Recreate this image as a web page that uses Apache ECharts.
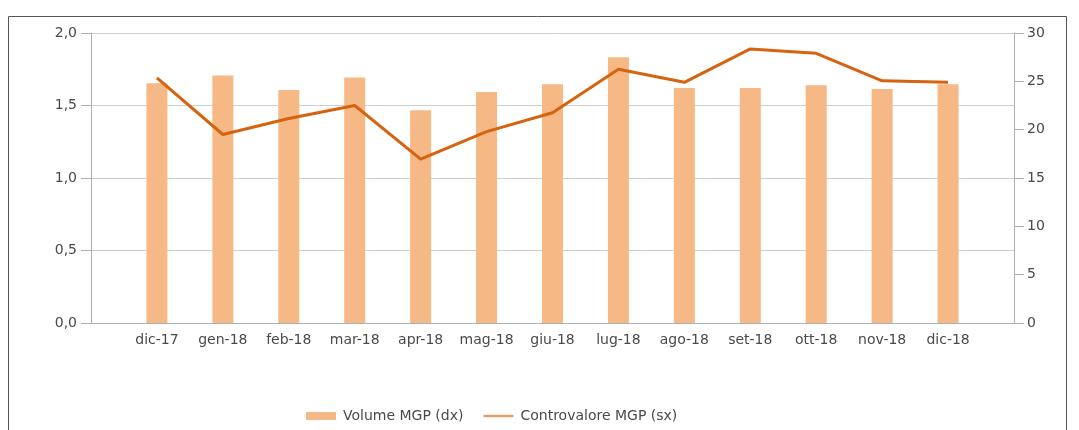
<!DOCTYPE html>
<html>
<head>
<meta charset="utf-8">
<script src="https://cdn.jsdelivr.net/npm/echarts@6/dist/echarts.min.js"></script>
<style>
html,body{margin:0;padding:0;background:#fff;}
#chart{width:1079px;height:430px;}
</style>
</head>
<body>
<div id="chart"></div>
<script>
const categories = ['dic-17','gen-18','feb-18','mar-18','apr-18','mag-18','giu-18','lug-18','ago-18','set-18','ott-18','nov-18','dic-18'];
const volumeMGP = [24.8, 25.6, 24.1, 25.4, 22.0, 23.9, 24.7, 27.5, 24.3, 24.3, 24.6, 24.2, 24.7];
const controvaloreMGP = [1.69, 1.30, 1.41, 1.50, 1.13, 1.32, 1.45, 1.75, 1.66, 1.89, 1.86, 1.67, 1.66];
const leftTickLabels = ['0,0','0,5','1,0','1,5','2,0'];
const rightTickLabels = ['0','5','10','15','20','25','30'];

const axisCats = [''].concat(categories, ['']);
const padVol = [null].concat(volumeMGP, [null]);
const padCtrl = [null].concat(controvaloreMGP, [null]);

const FONT = 'DejaVu Sans';
const TXT = '#4a4a4a';

const chart = echarts.init(document.getElementById('chart'), null, {renderer:'canvas'});
chart.setOption({
  animation: false,
  backgroundColor: '#ffffff',
  graphic: [{
    type: 'rect',
    shape: {x: 8.5, y: 16.5, width: 1058, height: 440},
    style: {fill: 'none', stroke: '#555555', lineWidth: 1},
    silent: true
  }],
  grid: {left: 91, right: 65, top: 33, bottom: 107, containLabel: false},
  legend: {
    left: 301,
    top: 404,
    itemWidth: 30,
    itemHeight: 8,
    itemGap: 20,
    textStyle: {fontFamily: FONT, fontSize: 14, color: TXT, padding: [0,0,0,2]},
    data: [
      {name: 'Volume MGP (dx)', icon: 'rect'},
      {name: 'Controvalore MGP (sx)', icon: 'path://M0,0H30V2.4H0Z', itemStyle: {color: '#ec9a5a'}}
    ]
  },
  xAxis: {
    type: 'category',
    data: axisCats,
    boundaryGap: false,
    axisLine: {show: true, lineStyle: {color: '#a9b0b8', width: 1}},
    axisTick: {show: false},
    axisLabel: {interval: 0, margin: 10, fontFamily: FONT, fontSize: 14, color: TXT},
    splitLine: {show: false}
  },
  yAxis: [{
    type: 'value',
    min: 0, max: 2, interval: 0.5,
    position: 'left',
    axisLine: {show: true, lineStyle: {color: '#b0b0b0'}},
    axisTick: {show: true, length: 10, lineStyle: {color: '#b0b0b0'}},
    axisLabel: {margin: 14, fontFamily: FONT, fontSize: 14, color: TXT,
      formatter: v => leftTickLabels[Math.round(v / 0.5)]},
    splitLine: {show: true, lineStyle: {color: '#cfcfcf', width: 1}}
  }, {
    type: 'value',
    min: 0, max: 30, interval: 5,
    position: 'right',
    axisLine: {show: true, lineStyle: {color: '#b0b0b0'}},
    axisTick: {show: true, length: 10, lineStyle: {color: '#b0b0b0'}},
    axisLabel: {margin: 13, fontFamily: FONT, fontSize: 14, color: TXT,
      formatter: v => rightTickLabels[Math.round(v / 5)]},
    splitLine: {show: false}
  }],
  series: [{
    name: 'Volume MGP (dx)',
    type: 'bar',
    yAxisIndex: 1,
    data: padVol,
    barWidth: 21,
    itemStyle: {color: '#f6b885'},
    z: 2
  }, {
    name: 'Controvalore MGP (sx)',
    type: 'line',
    yAxisIndex: 0,
    data: padCtrl,
    showSymbol: false,
    symbol: 'none',
    lineStyle: {color: '#d6630f', width: 3},
    itemStyle: {color: '#d6630f'},
    z: 3
  }]
});
</script>
</body>
</html>
